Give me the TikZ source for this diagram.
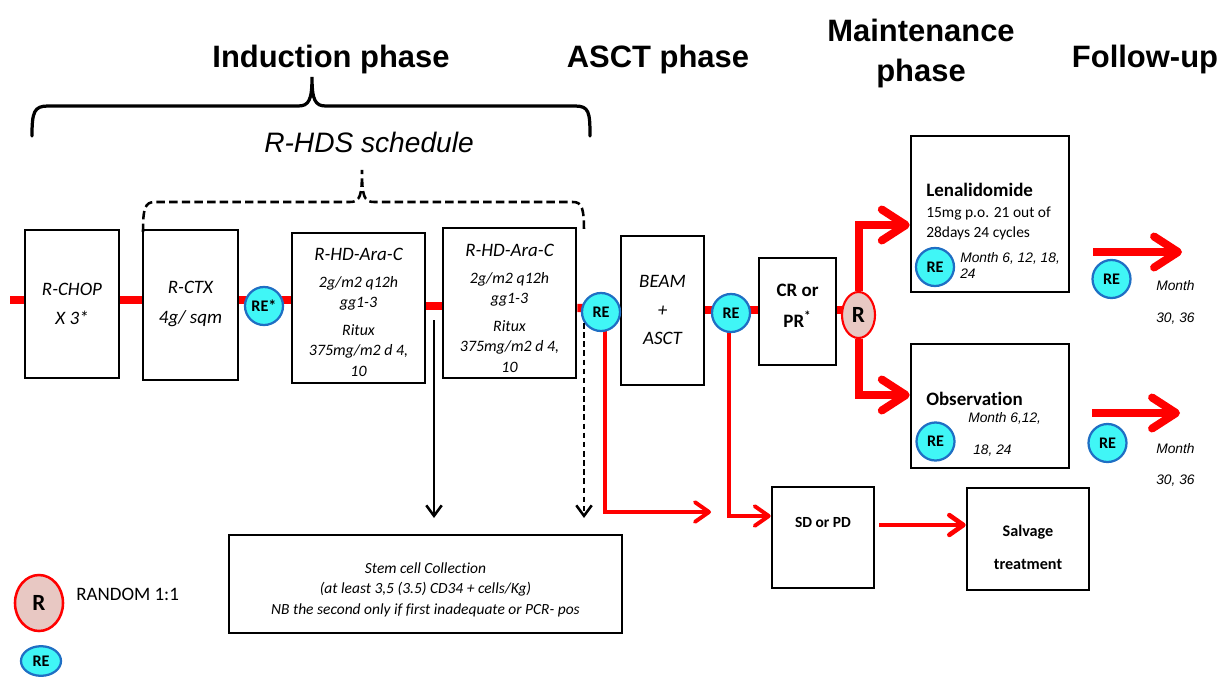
\documentclass[tikz,border=0pt]{standalone}
\usepackage{fontspec}
\setmainfont[Ligatures=NoCommon]{Carlito}
\newfontfamily\arial{Liberation Sans}
\usetikzlibrary{arrows.meta,shapes.geometric,fit,backgrounds}
\newcommand{\fsz}[2]{\fontsize{#1}{#2}\selectfont}
\definecolor{recyan}{RGB}{64,246,246}
\definecolor{reblue}{RGB}{31,111,196}
\definecolor{rpink}{RGB}{232,200,195}
\definecolor{myred}{RGB}{255,0,0}
\begin{document}
\begin{tikzpicture}[x=0.025cm,y=-0.025cm,
  box/.style={draw, line width=1.8pt, inner sep=0pt},
  txt/.style={inner sep=0pt, align=center},
  boxit/.style={txt, font=\itshape\fsz{13.5}{21}},
  hdtxt/.style={txt, font=\itshape\fsz{11.3}{14.5}},
  re/.style={circle, draw=reblue, line width=1.6pt, fill=recyan, minimum size=0.95cm, inner sep=0pt, font=\bfseries\fsz{11.5}{13}},
  rnode/.style={ellipse, draw=myred, line width=1.5pt, fill=rpink, inner sep=0pt, font=\bfseries\fsz{16.5}{18}},
  redline/.style={draw=myred, line width=5.7pt},
  bigarrow/.style={draw=myred, line width=5.7pt, -{Straight Barb[length=17pt,width=22pt,round]}},
  thinarrow/.style={draw=myred, line width=2.8pt, -{Straight Barb[length=10pt,width=14pt,round]}},
  blackarrow/.style={line width=1.8pt, -{Straight Barb[length=7.5pt,width=11pt]}},
  head/.style={font=\arial\bfseries\fsz{22}{28}},
  mon/.style={font=\arial\itshape\fsz{9.8}{12}, anchor=base west, inner sep=0pt},
  lbl/.style={anchor=base west, inner sep=0pt},
]
\useasboundingbox (0,0) rectangle (1223,678);

% headings
\node[head, anchor=base] (hind) at (331,67) {Induction phase};
\node[head, anchor=base] (hasct) at (658,67) {ASCT phase};
\node[head, anchor=north, align=center, inner sep=0pt] (hmaint) at (921,19) {Maintenance\\phase};
\node[head, anchor=base] (hfol) at (1145,67) {Follow-up};
\node[font=\arial\itshape\fsz{20}{24}, anchor=base] (rhds) at (369,152) {R-HDS schedule};

% braces
\draw[line width=2.3pt, line cap=round] (32,136) .. controls (32,112) and (34,106) .. (48,106) -- (298,106) .. controls (309,106) and (312,100) .. (312,77) .. controls (312,100) and (315,106) .. (326,106) -- (575,106) .. controls (589,106) and (590,112) .. (590,136);
\draw[line width=1.8pt, dash pattern=on 6pt off 3pt] (143,232) .. controls (143,208) and (145,202) .. (155,202) -- (350,202) .. controls (360,202) and (362,196) .. (362,170) .. controls (362,196) and (364,202) .. (374,202) -- (573,202) .. controls (582,202) and (584,208) .. (584,232);

% boxes
\node[box, fit={(25,230) (119,378)}] (rchop) {};
\node[box, fit={(143,230) (238,380)}] (rctx) {};
\node[box, fit={(292,233) (425,383)}] (hd1) {};
\node[box, fit={(443,228) (576,378)}] (hd2) {};
\node[box, fit={(621,236) (704,385)}] (beam) {};
\node[box, fit={(759,258) (836,365)}] (cr) {};
\node[box, fit={(911,136) (1069,292)}] (len) {};
\node[box, fit={(911,344) (1069,468)}] (obs) {};
\node[box, fit={(772,487) (874,588)}] (sd) {};
\node[box, fit={(967,488) (1089,590)}] (salv) {};
\node[box, fit={(229,535) (622,633)}] (stem) {};

% texts in boxes
\node[boxit] (rchopt) at (72,304) {R-CHOP\\X 3*};
\node[boxit] (rctxt) at (190.5,304) {R-CTX\\4g/ sqm};
\node[hdtxt] (hd1t) at (358.5,312) {{\fsz{13.5}{14.5}R-HD-Ara-C}\\[5pt]2g/m2 q12h\\gg1-3\\[5pt]Ritux\\375mg/m2 d 4,\\10};
\node[hdtxt] (hd2t) at (509.5,308) {{\fsz{13.5}{14.5}R-HD-Ara-C}\\[5pt]2g/m2 q12h\\gg1-3\\[5pt]Ritux\\375mg/m2 d 4,\\10};
\node[txt, font=\itshape\fsz{13.5}{20}] (beamt) at (662.5,310) {BEAM\\+\\ASCT};
\node[txt, font=\bfseries\fsz{13.5}{22}] (crt) at (797.5,306) {CR or\\PR\textsuperscript{*}};
\node[txt, font=\itshape\fsz{11}{14.6}] (stemt) at (425.5,589.5) {Stem cell Collection\\(at least 3,5 (3.5) CD34 + cells/Kg)\\NB the second only if first inadequate or PCR- pos};

% RE markers and R
\node[re] (re1) at (264,306) {RE*};
\node[re] (re3) at (601,312) {RE};
\node[re] (re4) at (731,313) {RE};
\node[rnode, minimum width=0.825cm, minimum height=1.15cm] (rr) at (858.5,315) {R};
\node[re] (relen) at (935,267) {RE};
\node[re] (reobs) at (935.5,441.5) {RE};
\node[re] (refu1) at (1111.5,279) {RE};
\node[re] (refu2) at (1107.5,443) {RE};

\node[lbl, font=\bfseries\fsz{13.5}{16}] (lentitle) at (926,196) {Lenalidomide};
\node[lbl, font=\fsz{11}{14}] (lendose1) at (926,217) {15mg p.o. 21 out of};
\node[lbl, font=\fsz{11}{14}] (lendose2) at (926,237) {28days 24 cycles};
\node[mon] (lenm1) at (960,262) {Month 6, 12, 18,};
\node[mon] (lenm2) at (960,278) {24};
\node[lbl, font=\bfseries\fsz{13.5}{16}] (obstitle) at (926,405) {Observation};
\node[mon] (obsm1) at (968,422) {Month 6,12,};
\node[mon] (obsm2) at (973,454) {18, 24};
\node[mon] (fm1) at (1156,290) {Month};
\node[mon] (fm2) at (1156,322) {30, 36};
\node[mon] (fm3) at (1156,453) {Month};
\node[mon] (fm4) at (1156,484) {30, 36};
\node[anchor=base, font=\bfseries\fsz{11}{14}] (sdt) at (823,527) {SD or PD};
\node[anchor=base, font=\bfseries\fsz{11.5}{14}] (salt1) at (1028,536) {Salvage};
\node[anchor=base, font=\bfseries\fsz{11.5}{14}] (salt2) at (1028,569) {treatment};

% legend
\node[rnode, minimum width=1.2cm, minimum height=1.4cm, line width=1.8pt] (rleg) at (39,603) {R};
\node[lbl, font=\fsz{13.5}{16}] (rlegt) at (76,600) {RANDOM 1:1};
\node[re, ellipse, minimum size=0pt, minimum width=1.0cm, minimum height=0.74cm] (releg) at (41,661) {RE};

% coordinates
\coordinate (lstart) at (10,300);
\coordinate (c1) at (711,512);
\coordinate (f1s) at (1093,252);
\coordinate (f1e) at (1182,252);
\coordinate (f2s) at (1092,413);
\coordinate (f2e) at (1180,413);
\coordinate (b1s) at (434,320);
\coordinate (b1e) at (434,518);
\coordinate (b2s) at (584,323);
\coordinate (b2e) at (584,518);

\begin{scope}[on background layer]
\draw[redline] (lstart) -- (rchop.west |- lstart);
\draw[redline] (rchop.east |- 0,300) -- (rctx.west |- 0,300);
\draw[redline] (rctx.east |- 0,300) -- (hd1.west |- 0,300);
\draw[redline] (hd1.east |- 0,306) -- (hd2.west |- 0,306);
\draw[redline] (hd2.east |- 0,308) -- (re3.center |- 0,308) -- (beam.west |- 0,309);
\draw[redline] (beam.east |- 0,310) -- (cr.west |- 0,310);
\draw[redline] (cr.east |- 0,310) -- (rr.center |- 0,310);
\draw[thinarrow] ([xshift=0.1cm]re3.center) |- (c1);
\draw[thinarrow] ([xshift=-0.05cm]re4.center) |- (sd.west |- 0,516);
\end{scope}

\draw[bigarrow] (rr.north) |- (len.west |- 0,225);
\draw[bigarrow] (rr.south) |- (obs.west |- 0,395);
\draw[bigarrow] (f1s) -- (f1e);
\draw[bigarrow] (f2s) -- (f2e);
\draw[thinarrow, line width=3.3pt, shorten <=0.1cm] (sd.east |- 0,525) -- (salv.west |- 0,525);
\draw[blackarrow] (b1s) -- (b1e);
\draw[blackarrow, dash pattern=on 4pt off 2.5pt] (b2s) -- (b2e);
\end{tikzpicture}
\end{document}
